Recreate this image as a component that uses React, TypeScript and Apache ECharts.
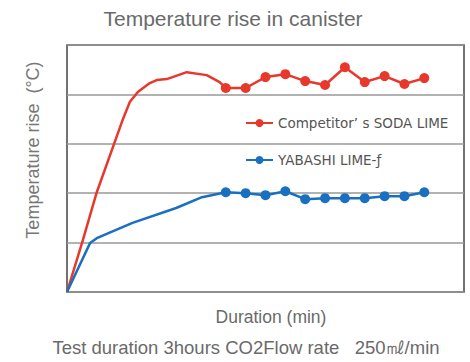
import React, { useEffect, useRef } from "react";
import * as echarts from "echarts";

const titleText = "Temperature rise in canister";
const yAxisName = "Temperature rise  (°C)";
const xAxisName = "Duration (min)";
const noteText = "Test duration 3hours CO2Flow rate   250㎖/min";
const seriesNames = ["Competitor’ s SODA LIME", "YABASHI LIME-ƒ"];

// minutes
const competitorTimes = [0, 8, 15, 28, 31.7, 35.7, 41.7, 45.2, 50.3, 60.3, 70.4, 76.9, 80, 90, 100, 110, 120, 130, 140, 150, 160, 170, 180];
const competitorValues = [0, 1.05, 2.02, 3.48, 3.85, 4.05, 4.23, 4.29, 4.31, 4.45, 4.39, 4.25, 4.13, 4.13, 4.35, 4.41, 4.27, 4.19, 4.55, 4.25, 4.37, 4.21, 4.33];
const yabashiTimes = [0, 11.6, 15, 33, 55, 68, 80, 90, 100, 110, 120, 130, 140, 150, 160, 170, 180];
const yabashiValues = [0, 0.99, 1.09, 1.4, 1.7, 1.92, 2.02, 2.0, 1.96, 2.04, 1.88, 1.9, 1.9, 1.9, 1.94, 1.94, 2.02];
const markerStart = 80;

function build(times: number[], values: number[]) {
  return times.map((t, i) =>
    t >= markerStart ? { value: [t, values[i]] } : { value: [t, values[i]], symbol: "none" }
  );
}

export default function App() {
  const ref = useRef<HTMLDivElement>(null);
  useEffect(() => {
    const chart = echarts.init(ref.current!, null, { renderer: "svg" });
    chart.setOption({
      animation: false,
      backgroundColor: "#ffffff",
      title: {
        text: titleText,
        left: 228,
        top: 3,
        textAlign: "center",
        textStyle: { fontFamily: "Liberation Sans", fontSize: 21, fontWeight: "normal", color: "#6a6a6a" },
      },
      legend: {
        orient: "vertical",
        left: 240,
        top: 111,
        itemGap: 23,
        itemWidth: 27,
        itemHeight: 10,
        textStyle: { fontFamily: "DejaVu Sans", fontSize: 13.5, color: "#555" },
        data: seriesNames,
      },
      grid: {
        left: 67,
        top: 45,
        right: 6,
        bottom: 70,
        show: true,
        borderColor: "#444",
        borderWidth: 1.5,
      },
      xAxis: {
        type: "value",
        min: 0,
        max: 200,
        axisLabel: { show: false },
        axisTick: { show: false },
        axisLine: { show: false },
        splitLine: { show: false },
      },
      yAxis: {
        type: "value",
        min: 0,
        max: 5,
        interval: 1,
        axisLabel: { show: false },
        axisTick: { show: false },
        axisLine: { show: false },
        splitLine: { show: true, lineStyle: { color: "#999", width: 1.5 } },
      },
      graphic: [
        {
          type: "text",
          x: 33,
          y: 150,
          rotation: Math.PI / 2,
          style: {
            text: yAxisName,
            fontFamily: "Liberation Sans",
            fontSize: 18,
            fill: "#777",
            align: "center",
            verticalAlign: "middle",
          },
        },
        {
          type: "text",
          x: 271,
          y: 317,
          style: {
            text: xAxisName,
            fontFamily: "Liberation Sans",
            fontSize: 17.5,
            fill: "#6a6a6a",
            align: "center",
            verticalAlign: "middle",
          },
        },
        {
          type: "text",
          x: 246,
          y: 347,
          style: {
            text: noteText,
            fontFamily: "Liberation Sans",
            fontSize: 18.5,
            fill: "#6a6a6a",
            align: "center",
            verticalAlign: "middle",
          },
        },
      ],
      series: [
        {
          name: seriesNames[0],
          type: "line",
          data: build(competitorTimes, competitorValues),
          symbol: "circle",
          symbolSize: 10,
          lineStyle: { color: "#e8382c", width: 2.5 },
          itemStyle: { color: "#e8382c" },
          z: 3,
        },
        {
          name: seriesNames[1],
          type: "line",
          data: build(yabashiTimes, yabashiValues),
          symbol: "circle",
          symbolSize: 10,
          lineStyle: { color: "#1a70c0", width: 2.5 },
          itemStyle: { color: "#1a70c0" },
          z: 4,
        },
      ],
    });
    return () => chart.dispose();
  }, []);
  return <div ref={ref} style={{ width: 470, height: 362, position: "absolute", left: 0, top: 0 }} />;
}
